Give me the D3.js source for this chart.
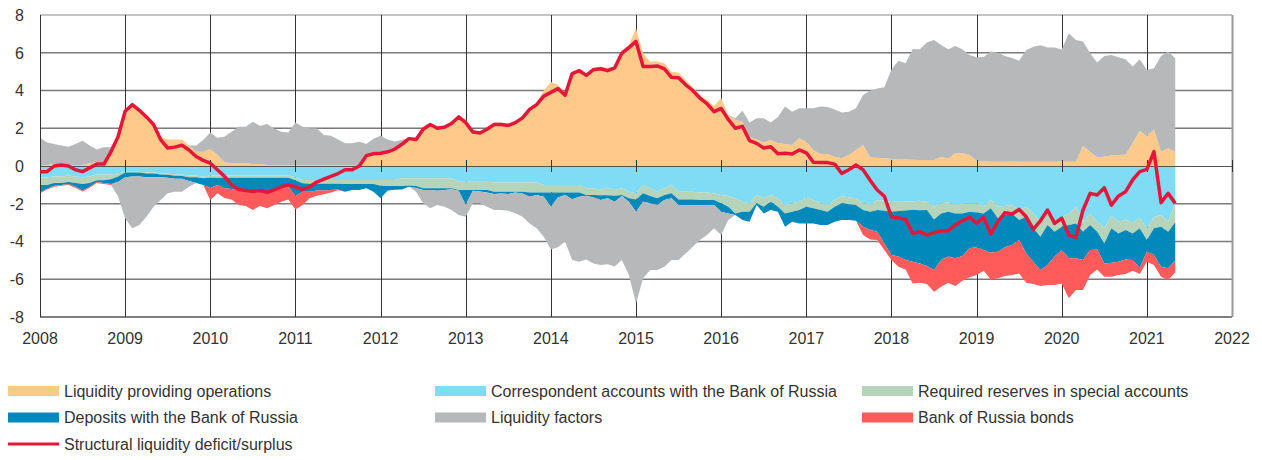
<!DOCTYPE html>
<html>
<head>
<meta charset="utf-8">
<script src="https://cdn.jsdelivr.net/npm/d3@7"></script>
<style>
  body { margin: 0; background: #fff; }
  svg text { font-family: "Liberation Sans", Arial, sans-serif; fill: #333; }
</style>
</head>
<body>
<div id="chart"></div>
<script>
// monthly data, Jan 2008 .. May 2021, trillions of rubles
var startYear = 2008;

var liquidityOps = [
  0, 0.05, 0.1, 0.1, 0.05, 0.05, 0.05, 0.15, 0.2, 0.2,
  0.8, 1.6, 2.9, 3.25, 2.95, 2.6, 2.2, 1.55, 1.4, 1.4,
  1.4, 1.1, 0.75, 0.75, 0.9, 0.6, 0.2, 0.15, 0.15, 0.15,
  0.1, 0.1, 0.05, 0.02, 0.02, 0.02, 0.02, 0.02, 0.02, 0.02,
  0.02, 0.02, 0.02, 0.02, 0.02, 0.02, 0.6, 0.7, 0.75, 0.85,
  1.0, 1.25, 1.5, 1.5, 2.0, 2.25, 2.1, 2.15, 2.35, 2.7,
  2.45, 1.9, 1.85, 2.0, 2.3, 2.3, 2.25, 2.4, 2.65, 3.1,
  3.35, 4.0, 4.45, 4.3, 3.85, 5.0, 5.15, 4.9, 5.2, 5.27,
  5.2, 5.27, 6.15, 6.41, 7.3, 5.97, 5.53, 5.53, 5.44, 5.0,
  4.95, 4.56, 4.17, 3.76, 3.5, 3.18, 3.6, 2.7, 2.44, 2.35,
  1.55, 1.41, 1.24, 1.38, 1.2, 1.17, 1.11, 1.47, 1.29, 0.85,
  0.64, 0.64, 0.49, 0.41, 0.58, 0.85, 1.11, 0.46, 0.42, 0.41,
  0.38, 0.35, 0.34, 0.33, 0.32, 0.32, 0.32, 0.49, 0.38, 0.67,
  0.67, 0.58, 0.28, 0.24, 0.23, 0.23, 0.23, 0.24, 0.23, 0.22,
  0.22, 0.22, 0.22, 0.22, 0.22, 0.23, 0.23, 1.06, 0.76, 0.46,
  0.49, 0.55, 0.58, 0.6, 1.2, 1.87, 1.59, 1.94, 0.76, 0.94,
  0.76
];

var corrAccounts = [
  -0.6, -0.6, -0.55, -0.55, -0.5, -0.55, -0.6, -0.55, -0.45, -0.45,
  -0.45, -0.4, -0.3, -0.3, -0.3, -0.35, -0.35, -0.4, -0.4, -0.45,
  -0.45, -0.5, -0.5, -0.55, -0.5, -0.5, -0.5, -0.5, -0.5, -0.5,
  -0.5, -0.5, -0.5, -0.5, -0.5, -0.5, -0.6, -0.74, -0.74, -0.74,
  -0.74, -0.74, -0.74, -0.74, -0.74, -0.74, -0.74, -0.74, -0.74, -0.74,
  -0.74, -0.65, -0.65, -0.65, -0.65, -0.65, -0.65, -0.65, -0.65, -0.83,
  -0.83, -0.83, -0.83, -0.83, -0.88, -0.88, -0.88, -0.88, -0.88, -0.88,
  -0.88, -1.0, -1.0, -1.0, -1.0, -1.0, -1.0, -1.18, -1.18, -1.25,
  -1.15, -1.27, -1.18, -1.36, -1.45, -1.0, -1.18, -1.36, -1.18, -1.0,
  -1.36, -1.36, -1.36, -1.41, -1.41, -1.45, -1.54, -1.59, -1.71, -1.89,
  -1.98, -1.54, -1.71, -1.54, -1.71, -2.07, -1.98, -1.89, -1.66, -1.8,
  -1.98, -2.07, -1.8, -1.59, -1.66, -1.71, -1.98, -2.07, -1.8, -1.84,
  -1.89, -1.89, -1.89, -1.87, -1.84, -1.89, -2.16, -1.98, -1.94, -2.07,
  -2.01, -1.98, -1.98, -2.16, -1.77, -2.16, -2.12, -2.07, -2.33, -2.16,
  -2.51, -2.95, -2.51, -2.95, -2.69, -2.54, -2.16, -2.95, -2.51, -2.95,
  -3.3, -2.65, -2.95, -2.83, -3.0, -2.77, -3.3, -2.7, -2.6, -2.95,
  -1.98
];

var requiredReserves = [
  -0.4, -0.4, -0.35, -0.35, -0.35, -0.35, -0.35, -0.35, -0.3, -0.3,
  -0.25, -0.15, -0.05, -0.05, -0.05, -0.05, -0.05, -0.05, -0.07, -0.07,
  -0.08, -0.1, -0.1, -0.1, -0.12, -0.12, -0.12, -0.12, -0.12, -0.12,
  -0.12, -0.12, -0.12, -0.12, -0.12, -0.12, -0.15, -0.18, -0.2, -0.2,
  -0.2, -0.2, -0.2, -0.21, -0.21, -0.21, -0.21, -0.21, -0.3, -0.32,
  -0.32, -0.41, -0.38, -0.41, -0.53, -0.53, -0.53, -0.53, -0.53, -0.44,
  -0.44, -0.44, -0.44, -0.44, -0.48, -0.48, -0.48, -0.48, -0.48, -0.53,
  -0.53, -0.41, -0.41, -0.41, -0.41, -0.41, -0.41, -0.36, -0.36, -0.3,
  -0.4, -0.3, -0.36, -0.35, -0.32, -0.45, -0.41, -0.35, -0.36, -0.45,
  -0.41, -0.41, -0.41, -0.39, -0.39, -0.35, -0.44, -0.57, -0.8, -0.53,
  -0.44, -0.44, -0.45, -0.35, -0.45, -0.44, -0.44, -0.44, -0.5, -0.44,
  -0.35, -0.35, -0.36, -0.39, -0.36, -0.36, -0.35, -0.35, -0.53, -0.53,
  -0.53, -0.49, -0.47, -0.45, -0.5, -0.44, -0.67, -0.53, -0.48, -0.44,
  -0.5, -0.44, -0.49, -0.35, -0.47, -0.61, -0.48, -0.44, -0.53, -0.53,
  -0.79, -0.8, -0.62, -0.53, -0.53, -0.59, -0.88, -0.53, -0.62, -0.53,
  -0.8, -0.65, -0.62, -0.56, -0.57, -0.53, -0.62, -0.6, -0.62, -0.53,
  -1.0
];

var deposits = [
  -0.4, -0.2, -0.15, -0.1, -0.1, -0.2, -0.35, -0.2, -0.1, -0.15,
  -0.25, -0.3, -0.25, -0.2, -0.2, -0.2, -0.2, -0.15, -0.15, -0.15,
  -0.15, -0.2, -0.3, -0.35, -0.55, -0.38, -0.56, -0.6, -0.68, -0.74,
  -0.79, -0.74, -0.83, -0.7, -0.56, -0.48, -0.84, -0.44, -0.42, -0.36,
  -0.36, -0.33, -0.3, -0.41, -0.32, -0.32, -0.23, -0.41, -0.67, -0.24,
  -0.2, -0.18, -0.07, -0.1, -0.09, -0.09, -0.13, -0.09, -0.05, -0.04,
  -0.8, -0.04, -0.08, -0.13, -0.13, -0.1, -0.13, -0.05, -0.1, -0.22,
  -0.13, -0.22, -0.75, -0.26, -0.13, -0.35, -0.22, -0.04, -0.13, -0.25,
  -0.16, -0.32, -0.05, -0.18, -0.65, -0.44, -0.39, -0.36, -0.26, -0.26,
  -0.3, -0.3, -0.3, -0.27, -0.27, -0.27, -0.44, -0.35, -0.09, -0.44,
  -0.53, -0.09, -0.35, -0.44, -0.26, -0.71, -0.53, -0.71, -0.88, -0.8,
  -0.8, -0.71, -0.79, -0.88, -0.84, -0.83, -0.89, -0.97, -1.15, -1.73,
  -2.3, -2.42, -2.62, -2.75, -2.82, -2.97, -2.68, -2.47, -2.38, -2.38,
  -2.26, -1.94, -1.84, -1.94, -2.35, -1.77, -1.71, -1.68, -1.06, -1.94,
  -1.77, -1.76, -2.12, -1.32, -1.23, -1.76, -1.85, -1.5, -1.32, -0.94,
  -1.06, -1.82, -1.5, -1.56, -1.41, -2.1, -0.62, -1.42, -2.12, -1.94,
  -2.03
];

var bonds = [
  -0.05, -0.05, -0.05, -0.05, -0.05, -0.05, -0.05, -0.05, -0.05, -0.05,
  -0.05, 0, 0, 0, 0, 0, 0, 0, 0, 0,
  0, 0, 0, 0, -0.63, -0.45, -0.52, -0.55, -0.77, -0.76,
  -0.92, -0.76, -0.79, -0.75, -0.71, -0.67, -0.71, -0.71, -0.35, -0.27,
  -0.2, -0.13, -0.05, 0, 0, 0, 0, 0, 0, 0,
  0, 0, 0, 0, 0, 0, 0, 0, 0, 0,
  0, 0, 0, 0, 0, 0, 0, 0, 0, 0,
  0, 0, 0, 0, 0, 0, 0, 0, 0, 0,
  0, 0, 0, 0, 0, 0, 0, 0, 0, 0,
  0, 0, 0, 0, 0, 0, 0, 0, 0, 0,
  0, 0, 0, 0, 0, 0, 0, 0, 0, 0,
  0, 0, 0, 0, 0, 0, -0.44, -0.5, -0.44, -0.35,
  -0.26, -0.54, -0.5, -1.15, -1.02, -0.95, -1.15, -1.42, -1.38, -1.47,
  -1.31, -1.54, -1.47, -1.1, -1.42, -1.41, -1.52, -1.59, -1.77, -1.55,
  -1.18, -0.85, -1.05, -1.5, -1.77, -2.12, -1.68, -1.59, -1.33, -1.06,
  -0.71, -0.75, -0.71, -0.77, -0.57, -0.32, -0.53, -0.53, -0.53, -0.62,
  -0.62
];

var liquidityFactors = [
  1.5, 1.2, 1.07, 0.98, 0.97, 1.12, 1.29, 0.93, 0.68, 0.8,
  0.2, -0.75, -2.17, -2.75, -2.58, -2.09, -1.56, -1.2, -0.83, -0.69,
  -0.68, -0.3, 0.33, 0.63, 0.88, 0.9, 1.35, 1.67, 1.93, 1.93,
  2.25, 2.02, 2.18, 1.97, 1.8, 1.75, 2.28, 2.06, 1.98, 1.98,
  1.62, 1.58, 1.38, 1.18, 1.18, 1.27, 0.57, 0.75, 0.85, 0.55,
  0.3, 0.13, 0, -0.2, -0.71, -0.97, -0.76, -0.89, -1.1, -1.29,
  -0.62, -0.67, -0.63, -0.76, -0.84, -0.87, -0.88, -1.09, -1.23, -1.41,
  -1.76, -2.12, -2.26, -2.64, -2.46, -3.22, -3.44, -3.37, -3.49, -3.45,
  -3.49, -3.44, -3.39, -3.89, -4.86, -4.06, -3.53, -3.44, -3.54, -3.27,
  -2.91, -2.56, -2.21, -1.85, -1.59, -1.23, -1.24, -0.35, 0.09, 0.58,
  0.75, 1.12, 1.29, 0.92, 1.4, 1.98, 1.77, 1.59, 1.77, 2.21,
  2.51, 2.48, 2.51, 2.42, 2.3, 2.21, 2.65, 3.53, 3.68, 3.76,
  4.72, 5.22, 5.11, 5.87, 5.86, 6.22, 6.36, 5.92, 5.8, 5.69,
  5.51, 5.3, 5.48, 5.53, 5.83, 5.77, 5.6, 5.48, 5.35, 5.92,
  6.1, 6.18, 6.06, 6.06, 5.95, 6.8, 6.45, 5.53, 5.21, 5.02,
  5.34, 5.33, 5.18, 5.05, 4.07, 3.78, 3.5, 3.24, 5.07, 5.12,
  4.95
];

var structuralLiquidity = [
  -0.3, -0.3, 0.0, 0.05, 0.0, -0.2, -0.3, -0.1, 0.1, 0.1,
  0.75, 1.55, 2.9, 3.25, 2.95, 2.6, 2.2, 1.4, 0.95, 1.0,
  1.1, 0.85, 0.5, 0.3, 0.15, -0.2, -0.55, -1.0, -1.25, -1.3,
  -1.35, -1.3, -1.4, -1.27, -1.1, -1.0, -1.1, -1.25, -1.1, -0.85,
  -0.7, -0.55, -0.4, -0.2, -0.2, 0.0, 0.55, 0.65, 0.68, 0.75,
  0.9, 1.15, 1.45, 1.4, 1.95, 2.2, 2.0, 2.05, 2.25, 2.6,
  2.3, 1.8, 1.75, 1.95, 2.2, 2.2, 2.15, 2.3, 2.55, 3.0,
  3.25, 3.7, 3.9, 4.1, 3.75, 4.9, 5.05, 4.8, 5.1, 5.15,
  5.05, 5.2, 5.97, 6.27, 6.6, 5.27, 5.27, 5.3, 5.15, 4.7,
  4.68, 4.3, 4.0, 3.6, 3.3, 2.88, 3.05, 2.47, 2.0, 2.1,
  1.35, 1.2, 0.95, 1.02, 0.65, 0.67, 0.64, 0.85, 0.7, 0.2,
  0.19, 0.18, 0.1, -0.39, -0.2, 0.05, -0.2, -0.75, -1.27, -1.6,
  -2.69, -2.75, -2.83, -3.57, -3.48, -3.66, -3.53, -3.45, -3.43, -3.13,
  -2.9, -2.72, -3.04, -2.72, -3.6, -2.95, -2.47, -2.54, -2.3, -2.69,
  -3.36, -2.9, -2.33, -3.04, -2.77, -3.66, -3.78, -2.33, -1.45, -1.54,
  -1.15, -2.07, -1.59, -1.36, -0.74, -0.3, -0.18, 0.76, -1.94, -1.45,
  -1.98
];

var yearTicks = d3.range(2008, 2023);
var valueTicks = [-8, -6, -4, -2, 0, 2, 4, 6, 8];

var legendNames = [
  "Liquidity providing operations",
  "Correspondent accounts with the Bank of Russia",
  "Required reserves in special accounts",
  "Deposits with the Bank of Russia",
  "Liquidity factors",
  "Bank of Russia bonds",
  "Structural liquidity deficit/surplus"
];

var colors = {
  liq: "#fdca89",
  factPos: "#b7b8ba",
  factNeg: "#b7b8ba",
  corr: "#80dcf5",
  res: "#b6d4b9",
  dep: "#0089ba",
  bonds: "#ff5b5b",
  line: "#e6163b"
};
var legendColors = [colors.liq, colors.corr, colors.res, colors.dep, colors.factPos, colors.bonds, colors.line];

var width = 1262;
var height = 460;

var x = d3.scaleLinear().domain([2008, 2022]).range([40, 1232]);
var y = d3.scaleLinear().domain([-8, 8]).range([317, 15]);

var rows = liquidityOps.map(function (v, i) {
  return {
    t: startYear + i / 12,
    liq: v,
    factPos: Math.max(liquidityFactors[i], 0),
    corr: corrAccounts[i],
    res: requiredReserves[i],
    dep: deposits[i],
    bonds: bonds[i],
    factNeg: Math.min(liquidityFactors[i], 0),
    line: structuralLiquidity[i]
  };
});

var posSeries = d3.stack().keys(["liq", "factPos"])(rows);
var negSeries = d3.stack().keys(["corr", "res", "dep", "bonds", "factNeg"])(rows);

var svg = d3.select("#chart").append("svg")
  .attr("width", width)
  .attr("height", height);

var crisp = function (v) { return Math.round(v) + 0.5; };

// grid
svg.append("g").selectAll("line")
  .data(valueTicks.filter(function (d) { return d !== 0; }))
  .enter().append("line")
  .attr("x1", x(2008)).attr("x2", x(2022))
  .attr("y1", function (d) { return y(d); })
  .attr("y2", function (d) { return y(d); })
  .attr("stroke", function (d) { return d === 8 ? "#c4c4c4" : (d === -8 ? "#555" : "#7a7a7a"); })
  .attr("stroke-width", function (d) { return d === 8 ? 2 : 1.6; });

svg.append("g").selectAll("line")
  .data(yearTicks)
  .enter().append("line")
  .attr("x1", function (d) { return crisp(x(d)); })
  .attr("x2", function (d) { return crisp(x(d)); })
  .attr("y1", y(8)).attr("y2", y(-8))
  .attr("stroke", function (d) { return d === 2022 ? "#999" : "#333"; })
  .attr("stroke-width", function (d) { return d === 2022 ? 2 : 1; });

// areas
var area = d3.area()
  .x(function (d) { return x(d.data.t); })
  .y0(function (d) { return y(d[0]); })
  .y1(function (d) { return y(d[1]); });

svg.append("g").selectAll("path")
  .data(posSeries.concat(negSeries))
  .enter().append("path")
  .attr("d", area)
  .attr("fill", function (d) { return colors[d.key]; });

// zero line with ticks
svg.append("line")
  .attr("x1", x(2008)).attr("x2", x(2022))
  .attr("y1", crisp(y(0))).attr("y2", crisp(y(0)))
  .attr("stroke", "#555").attr("stroke-width", 1);

svg.append("g").selectAll("line")
  .data(yearTicks)
  .enter().append("line")
  .attr("x1", function (d) { return crisp(x(d)); })
  .attr("x2", function (d) { return crisp(x(d)); })
  .attr("y1", y(0) - 6).attr("y2", y(0) + 6)
  .attr("stroke", "#333");

svg.append("line")
  .attr("x1", crisp(x(2008))).attr("x2", crisp(x(2008)))
  .attr("y1", y(8)).attr("y2", y(-8))
  .attr("stroke", "#333");

// line
var line = d3.line()
  .x(function (d) { return x(d.t); })
  .y(function (d) { return y(d.line); });

svg.append("path")
  .datum(rows)
  .attr("d", line)
  .attr("fill", "none")
  .attr("stroke", colors.line)
  .attr("stroke-width", 3.5)
  .attr("stroke-linejoin", "round");

// axis labels
svg.append("g").selectAll("text")
  .data(valueTicks)
  .enter().append("text")
  .attr("x", 24)
  .attr("y", function (d) { return y(d); })
  .attr("dy", "0.36em")
  .attr("text-anchor", "end")
  .style("font-size", "16px")
  .text(function (d) { return d; });

svg.append("g").selectAll("text")
  .data(yearTicks)
  .enter().append("text")
  .attr("x", function (d) { return x(d); })
  .attr("y", 344)
  .attr("text-anchor", "middle")
  .style("font-size", "16px")
  .text(function (d) { return d; });

// legend
var legend = svg.append("g").selectAll("g")
  .data(legendNames)
  .enter().append("g")
  .attr("transform", function (d, i) {
    return "translate(" + (8 + (i % 3) * 427) + "," + (391 + Math.floor(i / 3) * 26.5) + ")";
  });

legend.each(function (d, i) {
  var g = d3.select(this);
  if (i === legendNames.length - 1) {
    g.append("line")
      .attr("x1", 0).attr("x2", 51).attr("y1", 0).attr("y2", 0)
      .attr("stroke", legendColors[i]).attr("stroke-width", 3);
  } else {
    g.append("rect")
      .attr("x", 0).attr("y", -5)
      .attr("width", 51).attr("height", 10)
      .attr("fill", legendColors[i]);
  }
  g.append("text")
    .attr("x", 56)
    .attr("dy", "0.36em")
    .style("font-size", "16px")
    .text(d);
});
</script>
</body>
</html>
